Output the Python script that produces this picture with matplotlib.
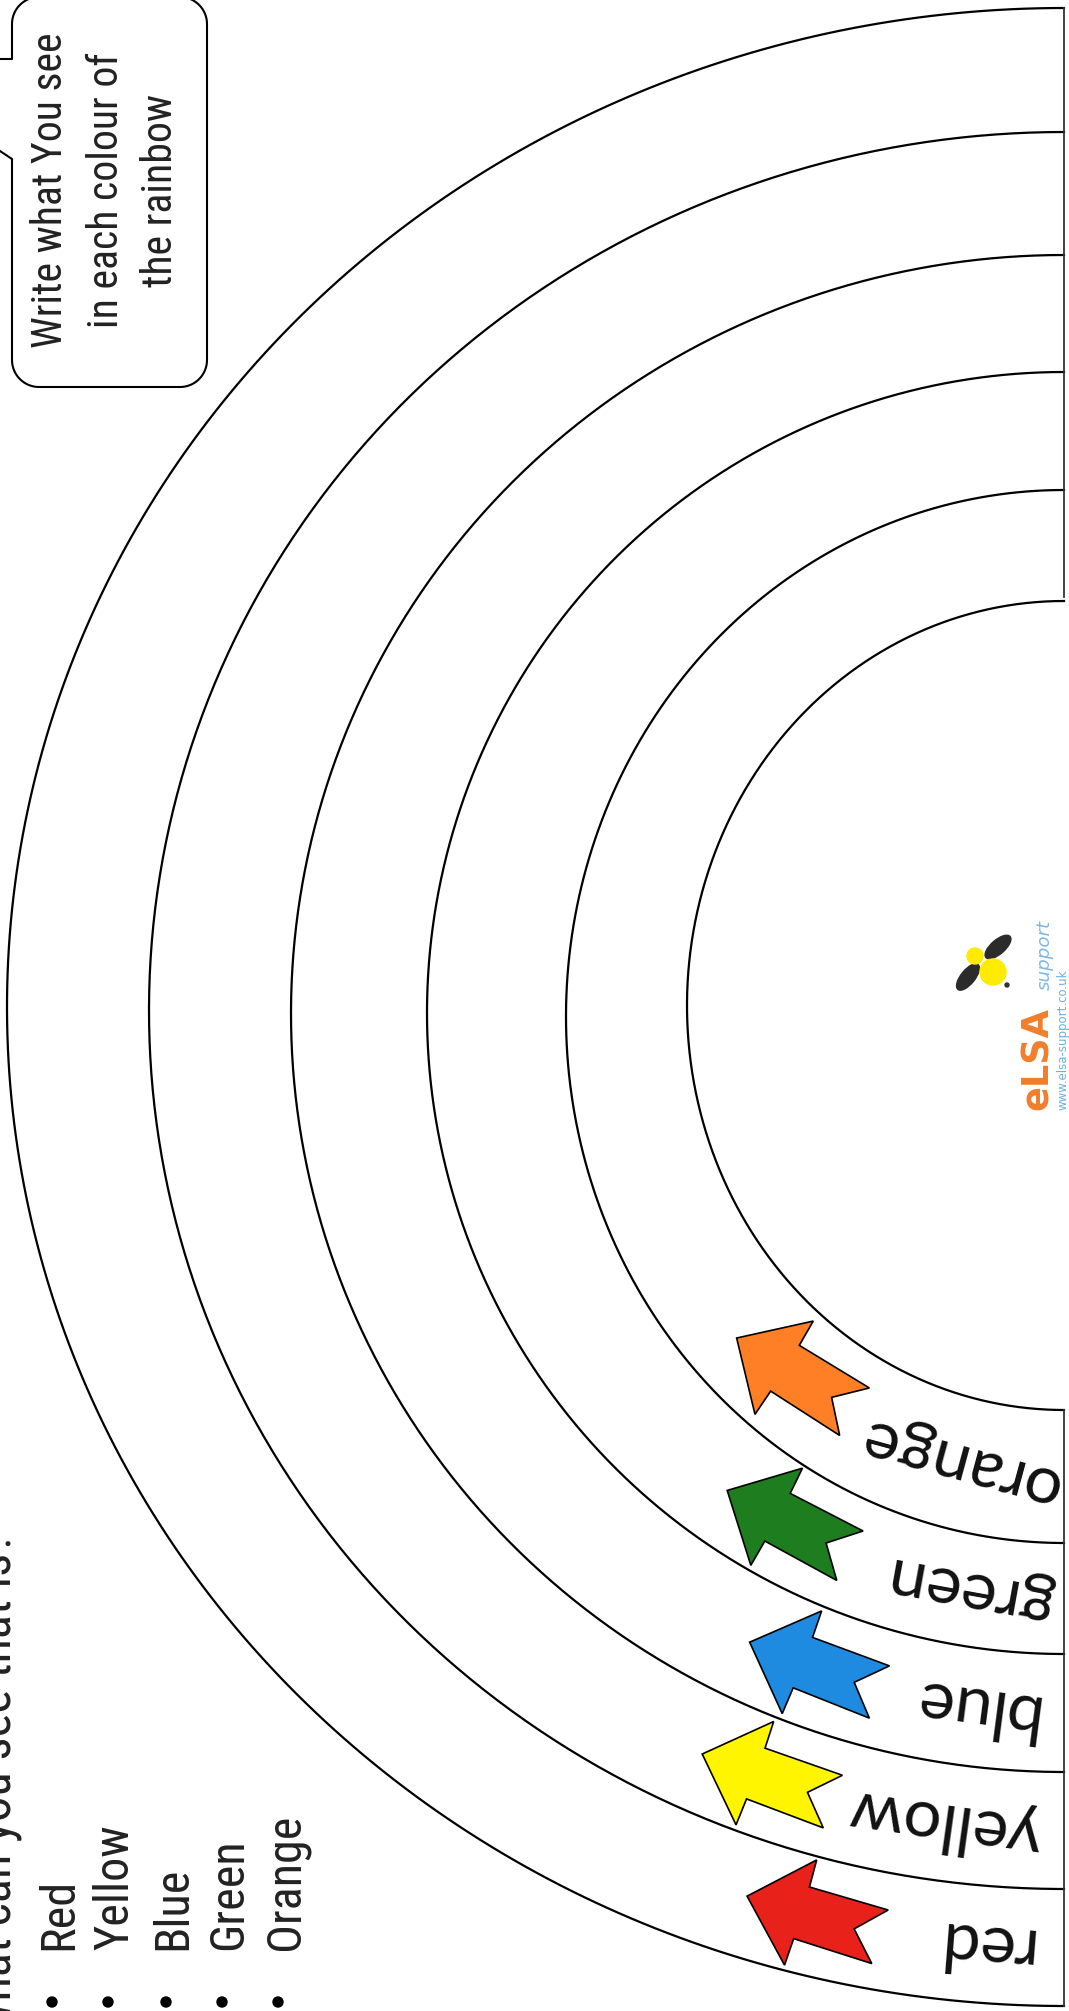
import matplotlib

matplotlib.use("Agg")

import matplotlib.pyplot as plt
import numpy as np
from matplotlib import font_manager
from matplotlib.patches import Circle, Ellipse, Polygon

W, H = 1069, 2011
BASE_X = 1064  # the straight edge of the rainbow

# rainbow arcs, outer to inner: where each meets the straight edge, and how far left it reaches
arc_top = [8, 132, 255, 372, 490, 601]
arc_bottom = [2006, 1889, 1772, 1654, 1543, 1410]
arc_left = [7, 149, 291, 427, 566, 687]

# bands between neighbouring arcs, outer to inner
band_names = ["red", "yellow", "blue", "green", "orange"]
band_colours = ["#E8211B", "#FFF500", "#1E8BE0", "#1D7D1F", "#FF7F27"]
label_x = [982, 945, 973, 967, 958]
arrow_x = [814, 768, 815, 789, 796]
arrow_angle = [17, 20, 21, 28, 32]

list_items = ["Red", "Yellow", "Blue", "Green", "Orange"]
list_baseline = [72, 128, 186, 242, 298]
question = "What can you see that is?"
bubble_lines = ["Write what You see", "in each colour of", "the rainbow"]
bubble_baseline = [62, 118, 172]

# block arrow outline: (distance from tip, offset across), tip at 0
arrow_shape = np.array([
    [0, 0], [56, -55], [57, -27], [139, -28], [112, 0],
    [139, 28], [57, 27], [56, 55],
], dtype=float)


def arc_params(i):
    a = BASE_X - arc_left[i]
    b = (arc_bottom[i] - arc_top[i]) / 2
    cy = (arc_bottom[i] + arc_top[i]) / 2
    return a, b, cy


def arc_y_lower(i, x):
    a, b, cy = arc_params(i)
    s = np.clip((BASE_X - x) / a, -1, 1)
    return cy + b * np.sqrt(1 - s ** 2)


def band_mid(k, x):
    return (arc_y_lower(k, x) + arc_y_lower(k + 1, x)) / 2


def band_tilt(k, x):
    slope = (band_mid(k, x + 1) - band_mid(k, x - 1)) / 2
    return np.degrees(np.arctan(slope))


def pick_hand_font():
    fonts = font_manager.fontManager.ttflist
    names = {f.name for f in fonts}
    for family in ("Liberation Sans Narrow", "Roboto Condensed", "Open Sans Condensed"):
        if family in names:
            return {"family": family}
    if any(f.name == "DejaVu Sans" and f.stretch == "condensed" for f in fonts):
        return {"family": "DejaVu Sans", "stretch": "condensed"}
    if "Roboto" in names:
        light = any(f.name == "Roboto" and isinstance(f.weight, int) and f.weight <= 300 for f in fonts)
        return {"family": "Roboto", "weight": 300 if light else "normal"}
    return {"family": "DejaVu Sans"}


names = {f.name for f in font_manager.fontManager.ttflist}
hand = pick_hand_font()
label_font = {"family": "Lato" if "Lato" in names else "DejaVu Sans"}

fig = plt.figure(figsize=(W / 100, H / 100), dpi=100)
fig.patch.set_facecolor("white")
ax = fig.add_axes([0, 0, 1, 1])
ax.set_xlim(0, W)
ax.set_ylim(H, 0)
ax.axis("off")
renderer = fig.canvas.get_renderer()


def fit_size(text, length_px, **font):
    probe = fig.text(0, 0, text, fontsize=20, **font)
    width = probe.get_window_extent(renderer).width
    probe.remove()
    return 20 * length_px / width


# arcs and the straight edge
t = np.linspace(0, np.pi, 500)
for i in range(len(arc_top)):
    a, b, cy = arc_params(i)
    ax.plot(BASE_X - a * np.sin(t), cy - b * np.cos(t), color="black", lw=1.6, zorder=2)
ax.plot([BASE_X, BASE_X], [arc_top[0], arc_top[-1] - 4], color="#333333", lw=1.3, zorder=2)
ax.plot([BASE_X, BASE_X], [arc_bottom[-1], arc_bottom[0]], color="#333333", lw=1.3, zorder=2)

# labels and arrows in each band
label_size = fit_size("orange", 205, **label_font)
for k, name in enumerate(band_names):
    lx = label_x[k]
    ax.text(lx, band_mid(k, lx), name, fontsize=label_size, rotation=180 - band_tilt(k, lx),
            rotation_mode="anchor", ha="center", va="center", color="#111111", zorder=3,
            **label_font)

    mx = arrow_x[k]
    my = band_mid(k, mx)
    phi = np.radians(arrow_angle[k])
    u = np.array([np.cos(phi), np.sin(phi)])
    n = np.array([-np.sin(phi), np.cos(phi)])
    along = arrow_shape[:, 0] - 70
    pts = np.array([mx, my]) + np.outer(along, u) + np.outer(arrow_shape[:, 1], n)
    ax.add_patch(Polygon(pts, closed=True, facecolor=band_colours[k], edgecolor="black",
                         lw=1.2, joinstyle="miter", zorder=4))

# speech bubble, top left
left, right, top, bottom, r = 12, 207, -3, 387, 27


def corner(cx, cy, a0, a1):
    th = np.radians(np.linspace(a0, a1, 20))
    return np.column_stack([cx + r * np.cos(th), cy + r * np.sin(th)])


outline = np.vstack([
    [[0, 59], [left, 59]],
    corner(left + r, top + r, 180, 270),
    corner(right - r, top + r, 270, 360),
    corner(right - r, bottom - r, 0, 90),
    corner(left + r, bottom - r, 90, 180),
    [[left, 159], [0, 151]],
])
ax.plot(outline[:, 0], outline[:, 1], color="black", lw=1.5, zorder=2)

bubble_size = fit_size(bubble_lines[0], 315, **hand)
for line, bx in zip(bubble_lines, bubble_baseline):
    ax.text(bx, 190, line, fontsize=bubble_size, rotation=90, rotation_mode="anchor",
            ha="center", va="baseline", color="#222222", **hand)

# question (cut by the page edge, as on the sheet) and colour list, bottom left
list_size = fit_size("Orange", 136, **hand)
ax.text(11, 1531, question, fontsize=list_size * 1.05, rotation=90, rotation_mode="anchor",
        ha="right", va="baseline", color="#222222", **hand)
for item, bx in zip(list_items, list_baseline):
    ax.text(bx, 1950, item, fontsize=list_size, rotation=90, rotation_mode="anchor",
            ha="left", va="baseline", color="#222222", **hand)
    ax.add_patch(Circle((bx - 20, 2002), 5, color="black", zorder=3))

# elsa support logo
ax.add_patch(Ellipse((998, 947), 32, 14, angle=-41, color="#2B2B2B", zorder=3))
ax.add_patch(Ellipse((968, 977), 32, 14, angle=-51, color="#2B2B2B", zorder=3))
ax.add_patch(Circle((975, 956), 8, color="#FFEB00", zorder=4))
ax.add_patch(Circle((993, 972), 13, color="#FFEB00", zorder=4))
ax.add_patch(Circle((1007, 985), 2, color="#333333", zorder=4))
ax.text(1048, 1058, "eLSA", fontsize=fit_size("eLSA", 103, family="DejaVu Sans", weight="bold"),
        rotation=90, rotation_mode="anchor", ha="center", va="baseline", color="#F07F2C",
        family="DejaVu Sans", weight="bold")
ax.text(1050, 955, "support", fontsize=fit_size("support", 70, family="DejaVu Sans", style="italic"),
        rotation=90, rotation_mode="anchor", ha="center", va="baseline", color="#7DB8E3",
        family="DejaVu Sans", style="italic")
ax.text(1066, 1040, "www.elsa-support.co.uk",
        fontsize=fit_size("www.elsa-support.co.uk", 140, family="DejaVu Sans"),
        rotation=90, rotation_mode="anchor", ha="center", va="baseline", color="#6AB0E0",
        family="DejaVu Sans")

fig.savefig("out.png", dpi=100, facecolor="white")
